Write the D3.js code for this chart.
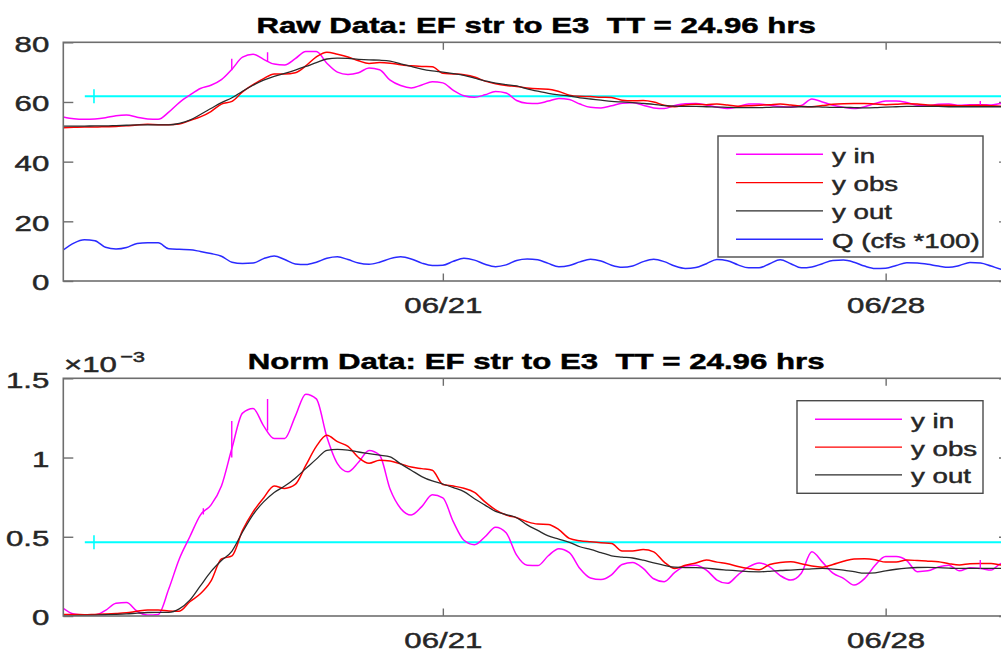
<!DOCTYPE html>
<html>
<head>
<meta charset="utf-8">
<script src="https://cdn.jsdelivr.net/npm/d3@7"></script>
<style>
  html, body { margin: 0; padding: 0; background: #fff; }
  svg { display: block; font-family: "Liberation Sans", Arial, Helvetica, sans-serif; }
  text { white-space: pre; }
</style>
</head>
<body>
<svg id="fig" width="1001" height="652"></svg>
<script>
// ---- time base: one sample every 4 hours, counted in days from 06/15 00:00 ----
const SAMPLE_HOURS = 4;
const xDomainDays = [0, 14.95];
const dayTicks = [6, 13];
const dayTickLabels = ["06/21", "06/28"];

// ---- raw data panel ----
const rawTitle = "Raw Data: EF str to E3  TT = 24.96 hrs";
const rawYTicks = [0, 20, 40, 60, 80];
const rawLegend = ["y in", "y obs", "y out", "Q (cfs *100)"];

const rawYin = [
  55.0, 54.4, 54.2, 54.3, 54.7, 55.4, 55.6, 54.9, 54.3, 54.2,
  56.6, 59.8, 62.3, 64.5, 65.6, 67.5, 71.0, 75.0, 76.0, 74.3,
  72.7, 72.4, 74.5, 76.9, 76.9, 73.0, 70.0, 69.2, 69.8, 71.4,
  70.8, 67.3, 65.5, 64.7, 65.7, 66.8, 66.4, 63.9, 62.1, 61.6,
  62.4, 63.5, 63.0, 60.5, 59.6, 59.5, 60.3, 61.2, 60.8, 59.3,
  58.2, 58.0, 58.7, 59.6, 59.7, 58.9, 58.0, 57.8, 58.8, 59.4,
  59.5, 59.0, 58.3, 57.8, 58.4, 59.3, 59.3, 58.9, 58.5, 58.3,
  58.8, 61.0, 60.0, 58.9, 58.2, 57.8, 58.4, 59.5, 60.3, 60.3,
  59.8, 58.9, 58.8, 59.2, 59.3, 58.9, 59.1, 59.1, 59.0, 59.5, 59.5
];
const rawYobs = [
  51.4, 51.5, 51.6, 51.6, 51.7, 51.8, 52.0, 52.3, 52.5, 52.4,
  52.4, 52.6, 53.8, 55.0, 56.8, 59.3, 60.2, 63.4, 65.8, 67.8,
  69.4, 69.4, 69.8, 72.1, 75.1, 76.7, 76.0, 75.1, 73.8, 72.9,
  73.2, 73.0, 72.5, 72.1, 71.9, 71.8, 69.6, 69.4, 69.1, 68.4,
  67.0, 66.1, 65.5, 65.2, 64.7, 64.4, 64.3, 63.5, 62.3, 61.9,
  61.8, 61.6, 61.5, 60.6, 60.4, 60.5, 60.0, 58.9, 58.4, 59.0,
  59.2, 59.1, 59.3, 59.0, 58.6, 58.7, 58.9, 59.1, 59.3, 59.0,
  58.6, 58.4, 58.8, 59.2, 59.4, 59.5, 59.5, 59.3, 59.1, 59.2,
  59.4, 59.3, 59.0, 58.9, 58.9, 58.7, 58.8, 58.9, 58.7, 58.6, 58.6
];
const rawYout = [
  51.9, 51.9, 51.9, 52.0, 52.0, 52.1, 52.2, 52.3, 52.3, 52.3,
  52.3, 52.8, 53.9, 55.8, 57.8, 59.8, 61.4, 63.6, 65.6, 67.3,
  68.6, 69.6, 70.7, 71.9, 73.2, 74.4, 74.7, 74.6, 74.3, 74.1,
  74.0, 73.7, 72.8, 71.9, 71.0, 70.4, 70.0, 69.5, 68.9, 68.0,
  67.1, 66.3, 65.8, 65.4, 64.4, 63.6, 62.9, 62.4, 62.0, 61.4,
  61.0, 60.6, 60.2, 60.0, 59.8, 59.5, 59.2, 58.8, 58.6, 58.5,
  58.5, 58.4, 58.3, 58.2, 58.1, 58.1, 58.1, 58.2, 58.3, 58.3,
  58.4, 58.4, 58.3, 58.2, 58.2, 58.1, 58.0, 58.1, 58.3, 58.4,
  58.5, 58.5, 58.5, 58.5, 58.4, 58.4, 58.4, 58.4, 58.4, 58.4, 58.4
];
const rawQ = [
  10.4, 12.7, 13.8, 13.5, 11.3, 10.7, 11.2, 12.6, 12.8, 12.8,
  10.8, 10.6, 10.5, 9.9, 9.2, 8.3, 6.3, 5.9, 6.0, 7.5,
  8.4, 7.2, 5.7, 5.5, 6.3, 7.6, 8.1, 7.2, 6.0, 5.6,
  6.3, 7.5, 8.1, 7.4, 6.0, 5.2, 5.3, 6.6, 7.6, 7.0,
  5.6, 4.8, 5.4, 6.9, 7.4, 7.1, 5.9, 4.8, 5.2, 6.4,
  7.3, 6.7, 5.3, 4.6, 5.0, 6.5, 7.3, 6.5, 5.0, 4.2,
  4.5, 5.8, 7.2, 6.8, 5.4, 4.4, 4.4, 5.8, 7.1, 5.8,
  4.4, 4.7, 5.8, 6.9, 7.0, 6.3, 5.0, 4.2, 4.3, 5.2,
  6.1, 6.0, 5.6, 5.0, 4.6, 5.2, 6.2, 6.0, 5.0, 3.9, 3.5
];
// single-sample spikes in the inflow record: [day, low, high]
const rawYinSpikes = [[2.663, 70.6, 74.5], [3.229, 73.5, 76.7], [14.496, 59.1, 60.3]];
const rawRefLevel = 61.9;

// ---- normalised data panel (values in units of 1e-3) ----
const normTitle = "Norm Data: EF str to E3  TT = 24.96 hrs";
const normExponent = "-3";
const normYTicks = [0, 0.5, 1, 1.5];
const normYTickLabels = ["0", "0.5", "1", "1.5"];
const normLegend = ["y in", "y obs", "y out"];

const normYin = [
  0.048, 0.012, 0.006, 0.006, 0.035, 0.08, 0.085, 0.03, 0.006, 0.01,
  0.17, 0.36, 0.50, 0.637, 0.70, 0.82, 1.06, 1.28, 1.31, 1.20,
  1.12, 1.12, 1.26, 1.40, 1.37, 1.13, 0.962, 0.91, 0.97, 1.045,
  1.015, 0.80, 0.679, 0.637, 0.69, 0.765, 0.745, 0.594, 0.478, 0.45,
  0.50, 0.56, 0.525, 0.384, 0.32, 0.318, 0.38, 0.425, 0.40, 0.30,
  0.24, 0.23, 0.26, 0.325, 0.338, 0.30, 0.235, 0.216, 0.275, 0.315,
  0.321, 0.29, 0.227, 0.206, 0.26, 0.31, 0.335, 0.31, 0.255, 0.227,
  0.27, 0.405, 0.34, 0.27, 0.238, 0.195, 0.236, 0.32, 0.375, 0.375,
  0.35, 0.28, 0.285, 0.31, 0.321, 0.285, 0.305, 0.30, 0.29, 0.332, 0.33
];
const normYobs = [
  0.01, 0.01, 0.008, 0.01, 0.012, 0.015, 0.02, 0.03, 0.038, 0.038,
  0.032, 0.03, 0.09, 0.14, 0.22, 0.36, 0.38, 0.54, 0.657, 0.745,
  0.82, 0.805, 0.83, 0.95, 1.07, 1.14, 1.10, 1.07, 1.0, 0.964,
  0.983, 0.978, 0.96, 0.94, 0.93, 0.92, 0.83, 0.82, 0.806, 0.78,
  0.72, 0.67, 0.637, 0.62, 0.595, 0.58, 0.578, 0.545, 0.49, 0.475,
  0.468, 0.462, 0.458, 0.41, 0.41, 0.42, 0.405, 0.34, 0.30, 0.32,
  0.335, 0.353, 0.34, 0.33, 0.313, 0.30, 0.292, 0.325, 0.338, 0.342,
  0.33, 0.315, 0.308, 0.325, 0.345, 0.36, 0.361, 0.355, 0.34, 0.34,
  0.353, 0.35, 0.346, 0.342, 0.33, 0.322, 0.33, 0.332, 0.332, 0.321, 0.32
];
const normYout = [
  0.0, 0.002, 0.004, 0.006, 0.008, 0.01, 0.013, 0.018, 0.022, 0.023,
  0.023, 0.045, 0.10, 0.19, 0.28, 0.35, 0.41, 0.53, 0.64, 0.72,
  0.78, 0.82, 0.87, 0.93, 0.99, 1.045, 1.052, 1.047, 1.035, 1.025,
  1.015, 1.004, 0.96, 0.92, 0.88, 0.852, 0.833, 0.81, 0.785, 0.74,
  0.70, 0.66, 0.64, 0.62, 0.575, 0.54, 0.505, 0.485, 0.465, 0.437,
  0.42, 0.40, 0.38, 0.372, 0.366, 0.352, 0.335, 0.32, 0.308, 0.305,
  0.305, 0.302, 0.295, 0.29, 0.285, 0.28, 0.279, 0.282, 0.287, 0.29,
  0.294, 0.298, 0.30, 0.296, 0.29, 0.28, 0.27, 0.272, 0.285, 0.295,
  0.302, 0.306, 0.307, 0.305, 0.302, 0.30, 0.30, 0.30, 0.30, 0.30, 0.30
];
const normYinSpikes = [[2.214, 0.64, 0.68], [2.663, 1.0, 1.23], [3.229, 1.17, 1.37], [14.496, 0.30, 0.353]];
const normRefLevel = 0.465;

// reference line: starts a little after the first sample, with a marker tick
const refStartDay = 0.34;
const refMarkDay = 0.485;

// ---- styling ----
const SX = 1.42;               // horizontal stretch of the figure's lettering
const TEXT = "#262626";
const AXIS = "#6e6e6e";
const COLORS = { yin: "#ff00ff", yobs: "#ff0000", yout: "#2b2b2b", q: "#2a2aff", ref: "#00ffff" };
const L = 63.3, R = 1009;

const svg = d3.select("#fig");
svg.append("rect").attr("width", 1001).attr("height", 652).attr("fill", "#fff");

const x = d3.scaleLinear().domain(xDomainDays).range([L, R]);
const dayOf = i => i * SAMPLE_HOURS / 24;

// slightly heavier lettering, as in the exported figure
function weighten(sel, fill) {
  return sel.attr("stroke", fill).attr("stroke-width", 0.45).attr("paint-order", "stroke");
}

function stretched(g, px, py, str, size, anchor, weight, fill) {
  const t = g.append("text")
    .attr("transform", `translate(${px},${py}) scale(${SX},1)`)
    .attr("text-anchor", anchor)
    .attr("font-size", size + "px")
    .attr("font-weight", weight || "normal")
    .attr("fill", fill || TEXT)
    .text(str);
  return weighten(t, fill || TEXT);
}

function drawPanel(p) {
  const y = d3.scaleLinear().domain(p.yDomain).range([p.bottom, p.top]);
  const g = svg.append("g");

  const clipId = "clip-" + p.id;
  svg.append("clipPath").attr("id", clipId)
    .append("rect").attr("x", L).attr("y", p.top).attr("width", R - L).attr("height", p.bottom - p.top);

  // tick marks on all four sides, pointing inward
  const styleAxis = sel => {
    sel.attr("font-size", null).attr("font-family", null);
    sel.select(".domain").remove();
    sel.selectAll(".tick line").attr("stroke", AXIS).attr("stroke-width", 1.4);
  };
  const gl = g.append("g").attr("transform", `translate(${L},0)`)
    .call(d3.axisLeft(y).tickValues(p.yTicks).tickSize(-10).tickFormat(p.yFmt));
  styleAxis(gl);
  weighten(gl.selectAll("text").attr("x", null).attr("dy", null)
    .attr("transform", `translate(-14,8.9) scale(${SX},1)`)
    .attr("font-size", "22px").attr("fill", TEXT), TEXT);
  const gr = g.append("g").attr("transform", `translate(${R},0)`)
    .call(d3.axisRight(y).tickValues(p.yTicks).tickSize(-10).tickFormat(""));
  styleAxis(gr);
  const gt = g.append("g").attr("transform", `translate(0,${p.top})`)
    .call(d3.axisTop(x).tickValues(dayTicks).tickSize(-7.5).tickFormat(""));
  styleAxis(gt);
  const gb = g.append("g").attr("transform", `translate(0,${p.bottom})`)
    .call(d3.axisBottom(x).tickValues(dayTicks).tickSize(-7.5)
      .tickFormat(d => dayTickLabels[dayTicks.indexOf(d)]));
  styleAxis(gb);
  weighten(gb.selectAll("text").attr("y", null).attr("dy", null)
    .attr("transform", `translate(0,32) scale(${SX},1)`)
    .attr("font-size", "22px").attr("fill", TEXT), TEXT);

  const plot = g.append("g").attr("clip-path", `url(#${clipId})`);

  // reference level with its marker
  plot.append("line")
    .attr("x1", x(refStartDay)).attr("x2", x(xDomainDays[1]) + 5)
    .attr("y1", y(p.ref)).attr("y2", y(p.ref))
    .attr("stroke", COLORS.ref).attr("stroke-width", 2);
  plot.append("line")
    .attr("x1", x(refMarkDay)).attr("x2", x(refMarkDay))
    .attr("y1", y(p.ref) - 7).attr("y2", y(p.ref) + 7)
    .attr("stroke", COLORS.ref).attr("stroke-width", 1.6);

  const line = d3.line()
    .x((d, i) => x(dayOf(i)))
    .y(d => y(d))
    .curve(d3.curveMonotoneX);

  p.series.forEach(s => {
    plot.append("path").datum(s.values)
      .attr("d", line)
      .attr("fill", "none")
      .attr("stroke", s.color)
      .attr("stroke-width", s.width || 1.5)
      .attr("stroke-linejoin", "round");
  });

  plot.selectAll("line.spike").data(p.spikes).join("line")
    .attr("class", "spike")
    .attr("x1", d => x(d[0])).attr("x2", d => x(d[0]))
    .attr("y1", d => y(d[1])).attr("y2", d => y(d[2]))
    .attr("stroke", COLORS.yin).attr("stroke-width", 1.4);

  // frame
  g.append("rect")
    .attr("x", L).attr("y", p.top).attr("width", R - L).attr("height", p.bottom - p.top)
    .attr("fill", "none").attr("stroke", AXIS).attr("stroke-width", 1.6);

  // title
  stretched(g, (L + R) / 2, p.titleY, p.title, 22, "middle", "bold", "#000");

  // legend
  const lg = p.legend;
  g.append("rect")
    .attr("x", lg.x0).attr("y", lg.y0).attr("width", lg.x1 - lg.x0).attr("height", lg.y1 - lg.y0)
    .attr("fill", "#fff").attr("stroke", "#4a4a4a").attr("stroke-width", 1.4);
  p.series.forEach((s, i) => {
    const ly = lg.firstRow + i * lg.rowStep;
    g.append("line")
      .attr("x1", lg.lineX0).attr("x2", lg.lineX1)
      .attr("y1", ly).attr("y2", ly)
      .attr("stroke", s.color).attr("stroke-width", 1.4);
    stretched(g, lg.textX, ly + 8.5, s.label, 19.5, "start");
  });
  return { g, y };
}

drawPanel({
  id: "raw", top: 42.3, bottom: 281, titleY: 33,
  yDomain: [0, 80], yTicks: rawYTicks, yFmt: d3.format("d"),
  ref: rawRefLevel, title: rawTitle, spikes: rawYinSpikes,
  series: [
    { label: rawLegend[0], values: rawYin, color: COLORS.yin },
    { label: rawLegend[1], values: rawYobs, color: COLORS.yobs },
    { label: rawLegend[2], values: rawYout, color: COLORS.yout, width: 1.3 },
    { label: rawLegend[3], values: rawQ, color: COLORS.q }
  ],
  legend: { x0: 718, y0: 136, x1: 983, y1: 257, lineX0: 736, lineX1: 823, textX: 832, firstRow: 154.3, rowStep: 28.3 }
});

const normPanel = drawPanel({
  id: "norm", top: 378.3, bottom: 616, titleY: 369,
  yDomain: [0, 1.5], yTicks: normYTicks, yFmt: d => normYTickLabels[normYTicks.indexOf(d)],
  ref: normRefLevel, title: normTitle, spikes: normYinSpikes,
  series: [
    { label: normLegend[0], values: normYin, color: COLORS.yin },
    { label: normLegend[1], values: normYobs, color: COLORS.yobs },
    { label: normLegend[2], values: normYout, color: COLORS.yout, width: 1.3 }
  ],
  legend: { x0: 797, y0: 400.7, x1: 983, y1: 493.3, lineX0: 815, lineX1: 902, textX: 911, firstRow: 419.3, rowStep: 27.8 }
});

// axis multiplier label above the normalised panel
stretched(normPanel.g, 64, 372, "\u00d710", 22, "start");
stretched(normPanel.g, 120, 361.5, "\u2212" + normExponent.replace("-", ""), 15.5, "start");
</script>
</body>
</html>
